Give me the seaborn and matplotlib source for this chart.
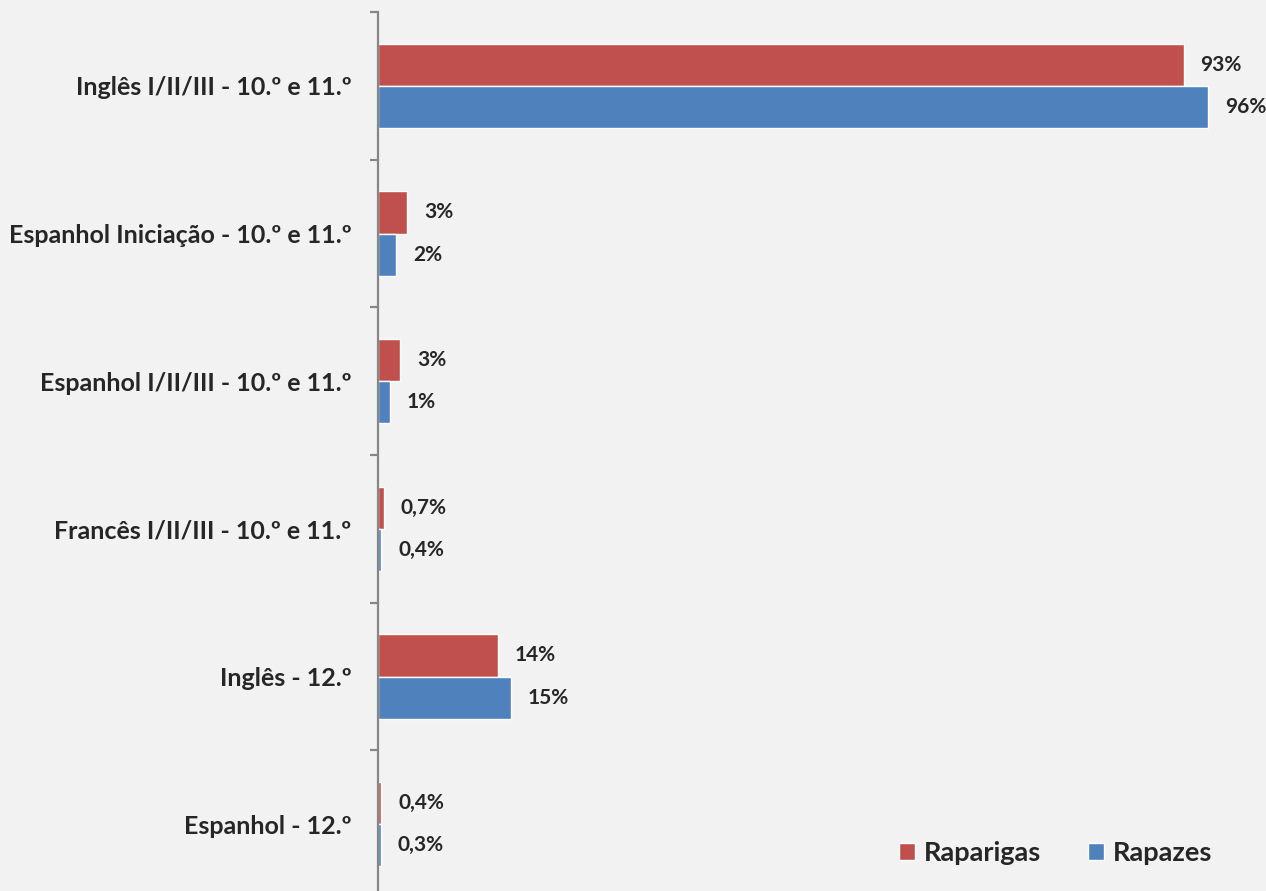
import numpy as np
import pandas as pd
import matplotlib
matplotlib.use("Agg")
import matplotlib.pyplot as plt
import seaborn as sns
from matplotlib.patches import Patch

# Data (share of students by language subject and sex, %)
categories = [
    "Inglês I/II/III - 10.º e 11.º",
    "Espanhol Iniciação - 10.º e 11.º",
    "Espanhol I/II/III - 10.º e 11.º",
    "Francês I/II/III - 10.º e 11.º",
    "Inglês - 12.º",
    "Espanhol - 12.º",
]
series_names = ["Raparigas", "Rapazes"]
raparigas = [93.2, 3.4, 2.6, 0.7, 13.9, 0.4]
rapazes = [96.0, 2.1, 1.4, 0.4, 15.4, 0.3]
raparigas_labels = ["93%", "3%", "3%", "0,7%", "14%", "0,4%"]
rapazes_labels = ["96%", "2%", "1%", "0,4%", "15%", "0,3%"]

df = pd.DataFrame({
    "curso": categories * 2,
    "sexo": [series_names[0]] * len(categories) + [series_names[1]] * len(categories),
    "valor": raparigas + rapazes,
})

sns.set_style("white")
plt.rcParams["font.family"] = ["Lato", "DejaVu Sans"]
plt.rcParams["font.weight"] = "bold"

bg = "#F2F2F2"
colors = {"Raparigas": "#C0504D", "Rapazes": "#4F81BD"}

fig = plt.figure(figsize=(12.66, 8.91), dpi=100, facecolor=bg)
ax = fig.add_axes([378 / 1266, -7 / 891, 1 - 378 / 1266, (891 - 12 + 7) / 891])
ax.set_facecolor(bg)

sns.barplot(data=df, x="valor", y="curso", hue="sexo", order=categories,
            hue_order=series_names, palette=colors, width=0.57, orient="h",
            saturation=1, legend=False, ax=ax)

# data labels at end of each bar
for cont, labels in zip(ax.containers, [raparigas_labels, rapazes_labels]):
    ax.bar_label(cont, labels=labels, padding=12, fontsize=15, fontweight="bold")

ax.set_xlim(0, 102.7)
ax.set_ylim(5.5, -0.5)
ax.set_xlabel("")
ax.set_ylabel("")
ax.set_xticks([])

for s in ["top", "right", "bottom"]:
    ax.spines[s].set_visible(False)
ax.spines["left"].set_color("#868686")
ax.spines["left"].set_linewidth(1.6)

ax.tick_params(axis="y", which="major", left=False, length=0, pad=19, labelsize=18)
ax.set_yticks(np.arange(-0.5, len(categories), 1), minor=True)
ax.tick_params(axis="y", which="minor", left=True, length=6, width=1.6, color="#868686")
for t in ax.get_yticklabels():
    t.set_fontweight("bold")

handles = [Patch(facecolor=colors[n], label=n) for n in series_names]
ax.legend(handles=handles, loc="lower right", ncol=2, frameon=False,
          handlelength=0.6, handleheight=0.6, handletextpad=0.35,
          columnspacing=1.7, borderpad=0, borderaxespad=0,
          bbox_to_anchor=(0.94, 0.037),
          prop={"weight": "bold", "size": 19.5})

plt.savefig("out.png", dpi=100, facecolor=bg)
